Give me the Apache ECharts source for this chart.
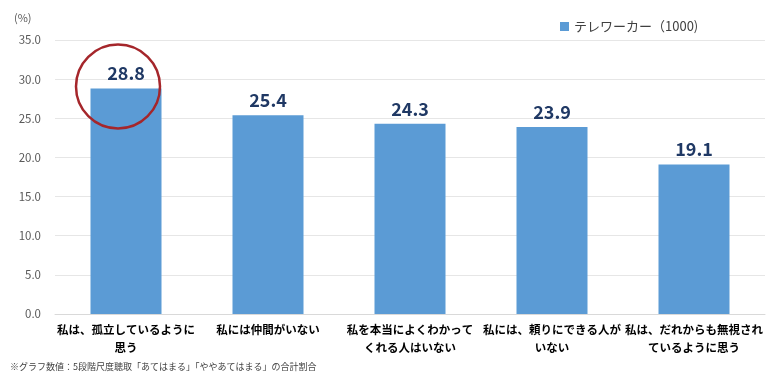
<!DOCTYPE html>
<html><head><meta charset="utf-8">
<script src="https://cdn.jsdelivr.net/npm/echarts@6/dist/echarts.min.js"></script>
<style>html,body{margin:0;padding:0;background:#fff}#c{width:780px;height:382px}</style>
</head><body><div id="c"></div>
<script>
const categories = ["私は、孤立しているように\n思う","私には仲間がいない","私を本当によくわかって\nくれる人はいない","私には、頼りにできる人が\nいない","私は、だれからも無視され\nているように思う"];
const values = [28.8, 25.4, 24.3, 23.9, 19.1];
const seriesName = "テレワーカー（1000)";
const yTicks = {min: 0, max: 35, interval: 5};
const note = "※グラフ数値：5段階尺度聴取「あてはまる」「ややあてはまる」の合計割合";
const font = '"Noto Sans CJK JP", "Noto Sans", sans-serif';

const chart = echarts.init(document.getElementById('c'));
chart.setOption({
  animation: false,
  textStyle: {fontFamily: font},
  grid: {left: 55, right: 15, top: 40, bottom: 68},
  legend: {
    data: [seriesName], left: 555, top: 15, itemWidth: 9, itemHeight: 9, itemGap: 5,
    icon: 'rect', textStyle: {fontSize: 13, color: '#404040', fontFamily: font}
  },
  xAxis: {
    type: 'category', data: categories,
    axisLine: {lineStyle: {color: '#d9d9d9', width: 1}},
    axisTick: {show: false},
    axisLabel: {interval: 0, color: '#000', fontWeight: 'bold', fontSize: 11.5, lineHeight: 18, margin: 7, fontFamily: font}
  },
  yAxis: {
    type: 'value', min: yTicks.min, max: yTicks.max, interval: yTicks.interval,
    axisLine: {show: false}, axisTick: {show: false},
    splitLine: {lineStyle: {color: '#e6e6e6'}},
    axisLabel: {formatter: v => v.toFixed(1), color: '#595959', fontSize: 11.5, margin: 14, fontFamily: font}
  },
  series: [{
    name: seriesName, type: 'bar', data: values, barWidth: 71,
    itemStyle: {color: '#5b9bd5'},
    label: {show: true, position: 'top', formatter: p => p.value.toFixed(1), color: '#1f3864', fontWeight: 'bold', fontSize: 18, distance: 6, fontFamily: font}
  }]
});
const p = chart.convertToPixel({xAxisIndex: 0, yAxisIndex: 0}, [0, values[0]]);
chart.setOption({graphic: [
  {type: 'text', left: 14, top: 12, style: {text: '(%)', fontSize: 11, fill: '#595959', fontFamily: font}},
  {type: 'text', left: 10, top: 362, style: {text: note, fontSize: 9, fill: '#404040', fontFamily: font}},
  {type: 'circle', z: 100, shape: {cx: p[0] - 8, cy: p[1] - 2, r: 42}, style: {fill: 'none', stroke: '#a5262b', lineWidth: 2.5}}
]});
</script></body></html>
